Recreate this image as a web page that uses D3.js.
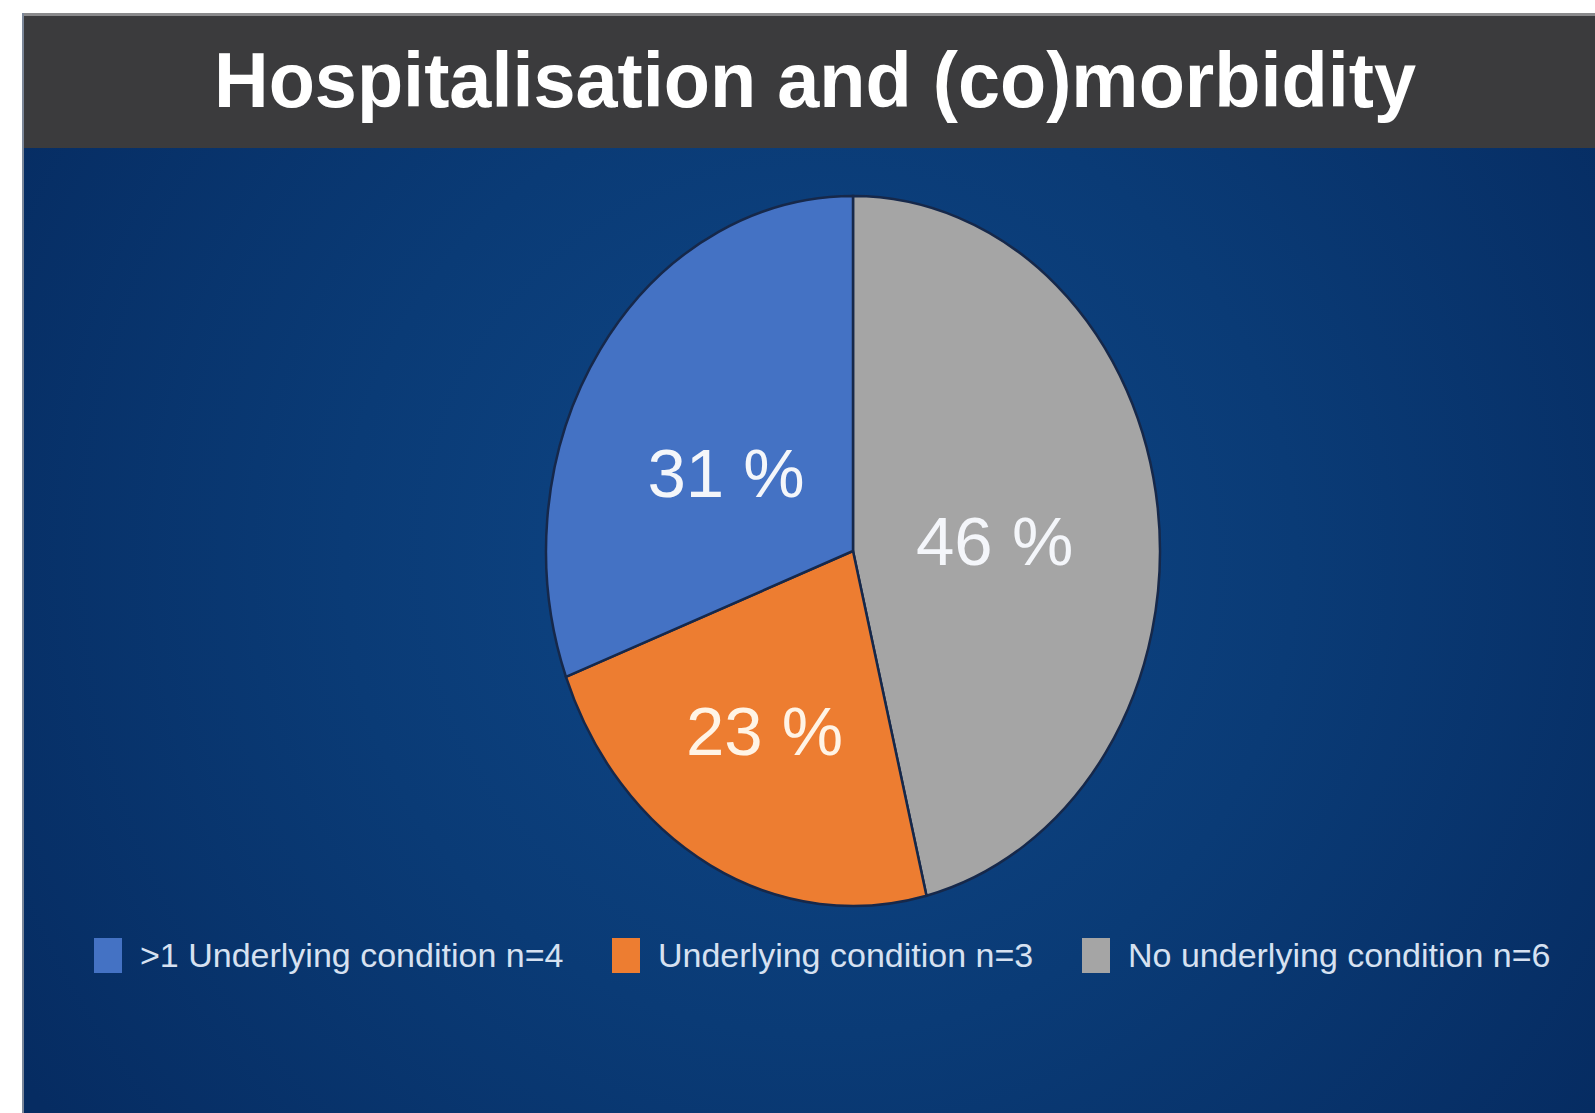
<!DOCTYPE html>
<html><head><meta charset="utf-8">
<script src="https://cdn.jsdelivr.net/npm/d3@7"></script>
<style>html,body{margin:0;padding:0;background:#fff;overflow:hidden}</style>
</head><body>
<svg id="chart" width="1595" height="1113"></svg>
<script>
const title = "Hospitalisation and (co)morbidity";
const categories = [">1 Underlying condition", "Underlying condition", "No underlying condition"];
const counts = [4, 3, 6];
const colors = ["#4472c4", "#ed7d31", "#a5a5a5"];

const W = 1595, H = 1113;
const svg = d3.select("#chart");
const defs = svg.append("defs");
const rg = defs.append("radialGradient").attr("id", "bg")
  .attr("gradientUnits", "userSpaceOnUse").attr("cx", 820).attr("cy", 560).attr("r", 950);
rg.append("stop").attr("offset", "0").attr("stop-color", "#0f4787");
rg.append("stop").attr("offset", "0.5").attr("stop-color", "#0a3b76");
rg.append("stop").attr("offset", "1").attr("stop-color", "#062c62");

// panel
svg.append("rect").attr("x", 22).attr("y", 13).attr("width", W - 22).attr("height", H - 13).attr("fill", "url(#bg)");
svg.append("rect").attr("x", 22).attr("y", 13).attr("width", W - 22).attr("height", 135).attr("fill", "#3b3b3d");
svg.append("rect").attr("x", 22).attr("y", 13).attr("width", W - 22).attr("height", 3).attr("fill", "#8a8a8c");
svg.append("rect").attr("x", 22).attr("y", 13).attr("width", 2).attr("height", H - 13).attr("fill", "#7b8799");

svg.append("text").attr("x", 815).attr("y", 107)
  .attr("text-anchor", "middle")
  .attr("font-family", "Liberation Sans, Arial, sans-serif")
  .attr("font-weight", "bold").attr("font-size", 78)
  .attr("textLength", 1202).attr("lengthAdjust", "spacingAndGlyphs")
  .attr("fill", "#ffffff").text(title);

// pie (elliptical)
const cx = 853, cy = 551, rx = 307, ry = 355;
const total = d3.sum(counts);
const items = categories.map((c, i) => ({cat: c, n: counts[i], color: colors[i], pct: Math.round(counts[i] / total * 100)}));
const pie = d3.pie().sort(null).value(d => d.n);
const arcs = pie(items.slice().reverse());
const arc = d3.arc().innerRadius(0).outerRadius(rx);
const g = svg.append("g").attr("transform", `translate(${cx},${cy}) scale(1,${ry / rx})`);
g.selectAll("path").data(arcs).join("path")
  .attr("d", arc).attr("fill", d => d.data.color)
  .attr("stroke", "#16284a").attr("stroke-width", 2.5)
  .attr("vector-effect", "non-scaling-stroke");

const labelArc = d3.arc().innerRadius(rx * 0.55).outerRadius(rx * 0.55);
const nudge = {"No underlying condition": [-26, 13], "Underlying condition": [-10, 6], ">1 Underlying condition": [12, 32]};
svg.selectAll("text.pct").data(arcs).join("text").attr("class", "pct")
  .attr("x", d => cx + labelArc.centroid(d)[0] + nudge[d.data.cat][0])
  .attr("y", d => cy + labelArc.centroid(d)[1] * ry / rx + nudge[d.data.cat][1])
  .attr("dy", "0.36em").attr("text-anchor", "middle")
  .attr("font-family", "Liberation Sans, Arial, sans-serif").attr("font-size", 69)
  .attr("fill", d => d.data.cat === "Underlying condition" ? "#fff4e6" : "#f4f6fa")
  .text(d => d.data.pct + " %");

// legend
const legX = [94, 612, 1082];
const leg = svg.selectAll("g.leg").data(items).join("g").attr("class", "leg")
  .attr("transform", (d, i) => `translate(${legX[i]},0)`);
leg.append("rect").attr("x", 0).attr("y", 938).attr("width", 28).attr("height", 35).attr("fill", d => d.color);
leg.append("text").attr("x", 46).attr("y", 967)
  .attr("font-family", "Liberation Sans, Arial, sans-serif").attr("font-size", 34)
  .attr("fill", "#d6e1f1")
  .text(d => `${d.cat} n=${d.n}`);
</script>
</body></html>
